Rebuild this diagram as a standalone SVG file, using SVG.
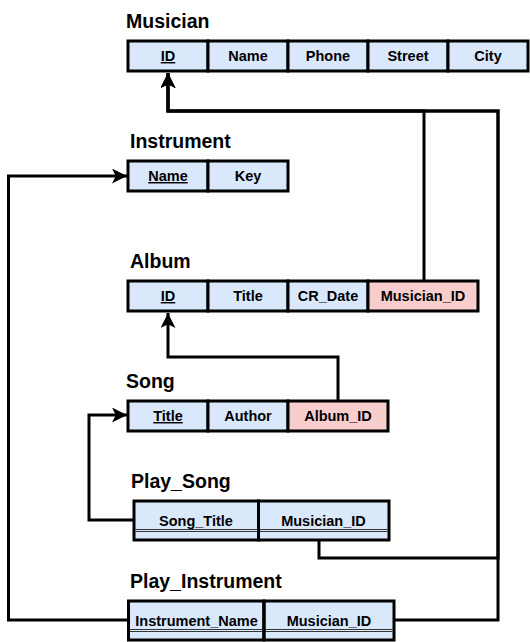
<svg xmlns="http://www.w3.org/2000/svg" width="530" height="642" viewBox="0 0 530 642">
<style>
.bg{fill:#ffffff}
.cell{stroke:#000;stroke-width:3}
.blue{fill:#dae8fc}
.pink{fill:#f8cecc}
.t{font-family:"Liberation Sans",Arial,sans-serif;font-weight:bold;font-size:14.5px;text-anchor:middle;fill:#000}
.pk{text-decoration:underline}
.title{font-family:"Liberation Sans",Arial,sans-serif;font-weight:bold;font-size:19.5px;fill:#000}
.conn{fill:none;stroke:#000;stroke-width:3;stroke-linejoin:miter}
.dbl{stroke:#333;stroke-width:1}
</style>
<defs>
<marker id="arrow" markerUnits="userSpaceOnUse" viewBox="0 0 16 16" refX="16" refY="8" markerWidth="15" markerHeight="15" orient="auto">
<path d="M0,0 L16,8 L0,16 L4,8 Z" fill="#000"/>
</marker>
</defs>
<rect class="bg" x="0" y="0" width="530" height="642"/>

<g id="connectors">
<path class="conn" d="M424,281 V111 H168 V73" marker-end="url(#arrow)"/>
<path class="conn" d="M319,541 V558 H498 V111 H168 V73" marker-end="url(#arrow)"/>
<path class="conn" d="M394,620 H498 V111 H168 V73" marker-end="url(#arrow)"/>
<path class="conn" d="M128,620 H8.5 V176 H127" marker-end="url(#arrow)"/>
<path class="conn" d="M134,520 H89 V415 H127" marker-end="url(#arrow)"/>
<path class="conn" d="M338,401 V357 H168 V313" marker-end="url(#arrow)"/>
</g>

<g id="musician">
<text class="title" x="126" y="28">Musician</text>
<rect class="cell blue" x="128" y="41" width="80" height="30"/>
<rect class="cell blue" x="208" y="41" width="80" height="30"/>
<rect class="cell blue" x="288" y="41" width="80" height="30"/>
<rect class="cell blue" x="368" y="41" width="80" height="30"/>
<rect class="cell blue" x="448" y="41" width="80" height="30"/>
<text class="t pk" x="168" y="61">ID</text>
<text class="t" x="248" y="61">Name</text>
<text class="t" x="328" y="61">Phone</text>
<text class="t" x="408" y="61">Street</text>
<text class="t" x="488" y="61">City</text>
</g>

<g id="instrument">
<text class="title" x="130" y="148">Instrument</text>
<rect class="cell blue" x="128" y="161" width="80" height="30"/>
<rect class="cell blue" x="208" y="161" width="80" height="30"/>
<text class="t pk" x="168" y="181">Name</text>
<text class="t" x="248" y="181">Key</text>
</g>

<g id="album">
<text class="title" x="130" y="268">Album</text>
<rect class="cell blue" x="128" y="281" width="80" height="30"/>
<rect class="cell blue" x="208" y="281" width="80" height="30"/>
<rect class="cell blue" x="288" y="281" width="80" height="30"/>
<rect class="cell pink" x="368" y="281" width="110" height="30"/>
<text class="t pk" x="168" y="301">ID</text>
<text class="t" x="248" y="301">Title</text>
<text class="t" x="328" y="301">CR_Date</text>
<text class="t" x="423" y="301">Musician_ID</text>
</g>

<g id="song">
<text class="title" x="126" y="388">Song</text>
<rect class="cell blue" x="128" y="401" width="80" height="30"/>
<rect class="cell blue" x="208" y="401" width="80" height="30"/>
<rect class="cell pink" x="288" y="401" width="100" height="30"/>
<text class="t pk" x="168" y="421">Title</text>
<text class="t" x="248" y="421">Author</text>
<text class="t" x="338" y="421">Album_ID</text>
</g>

<g id="play_song">
<text class="title" x="131" y="488">Play_Song</text>
<rect class="cell blue" x="134" y="501" width="124.5" height="39"/>
<rect class="cell blue" x="258.5" y="501" width="130.5" height="39"/>
<line class="dbl" x1="135.5" y1="529.5" x2="387.5" y2="529.5"/>
<line class="dbl" x1="135.5" y1="531.5" x2="387.5" y2="531.5"/>
<line class="cell" x1="258.5" y1="501" x2="258.5" y2="540"/>
<text class="t" x="196" y="526">Song_Title</text>
<text class="t" x="323.5" y="526">Musician_ID</text>
</g>

<g id="play_instrument">
<text class="title" x="130" y="588">Play_Instrument</text>
<rect class="cell blue" x="128.5" y="601" width="135.5" height="39"/>
<rect class="cell blue" x="264" y="601" width="130" height="39"/>
<line class="dbl" x1="130" y1="629.5" x2="392.5" y2="629.5"/>
<line class="dbl" x1="130" y1="631.5" x2="392.5" y2="631.5"/>
<line class="cell" x1="264" y1="601" x2="264" y2="640"/>
<text class="t" x="196.5" y="626">Instrument_Name</text>
<text class="t" x="329" y="626">Musician_ID</text>
</g>
</svg>
